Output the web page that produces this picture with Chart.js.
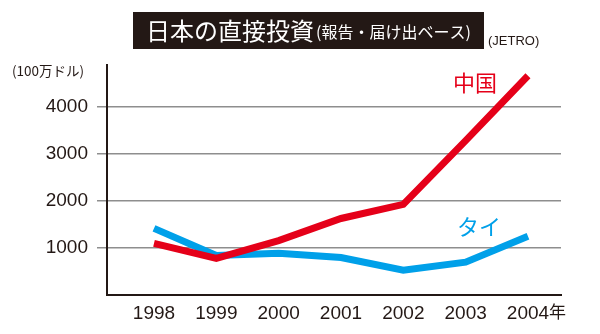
<!DOCTYPE html>
<html>
<head>
<meta charset="utf-8">
<script src="https://cdn.jsdelivr.net/npm/chart.js@4"></script>
<style>
  html, body { margin: 0; padding: 0; background: #fff; }
  #wrap { width: 600px; height: 334px; position: relative; }
</style>
</head>
<body>
<div id="wrap"><canvas id="myChart" width="600" height="334"></canvas></div>
<script>
// data (100万ドル)
const years = [1998, 1999, 2000, 2001, 2002, 2003, 2004];
const china = [1100, 780, 1160, 1630, 1930, 3290, 4670];
const thai = [1420, 840, 890, 800, 530, 700, 1250];
const yTicks = [1000, 2000, 3000, 4000];

const axisColor = "#231815";
const gridColor = "#8e8e8e";
const red = "#e50019";
const blue = "#00a0e9";
const numFont = "'Liberation Sans', Arial, sans-serif";
const jpFont = "'Noto Sans CJK JP', sans-serif";

// title box, unit label, series names, 年 suffix
const decorations = {
  id: "decorations",
  afterDraw(chart) {
    const ctx = chart.ctx;
    ctx.save();
    // title
    ctx.fillStyle = "#231815";
    ctx.fillRect(133, 12, 351, 37);
    ctx.fillStyle = "#fff";
    ctx.textBaseline = "middle";
    ctx.textAlign = "left";
    ctx.font = "400 24px " + jpFont;
    ctx.fillText("日本の直接投資", 146, 31);
    ctx.font = "400 16px " + jpFont;
    ctx.fillText("(報告・届け出ベース)", 316, 32);
    ctx.fillStyle = "#231815";
    ctx.font = "13px " + numFont;
    ctx.fillText("(JETRO)", 488, 41);
    // unit
    ctx.font = "13.5px " + jpFont;
    ctx.fillText("(100万ドル)", 12, 71);
    // series names
    ctx.font = "22px " + jpFont;
    ctx.fillStyle = red;
    ctx.fillText("中国", 453, 83);
    ctx.fillStyle = blue;
    ctx.fillText("タイ", 457, 227);
    // 年 after last year label
    const xs = chart.scales.x;
    const lastX = xs.getPixelForValue(years[years.length - 1]);
    ctx.font = "19px " + numFont;
    const w = ctx.measureText(String(years[years.length - 1])).width;
    ctx.fillStyle = axisColor;
    ctx.font = "17px " + jpFont;
    ctx.fillText("年", lastX + w / 2, 312);
    ctx.restore();
  }
};

new Chart(document.getElementById("myChart"), {
  type: "line",
  data: {
    datasets: [
      {
        label: "中国",
        data: years.map((y, i) => ({ x: y, y: china[i] })),
        borderColor: red,
        borderWidth: 7,
        pointRadius: 0,
        tension: 0,
        borderCapStyle: "butt",
      },
      {
        label: "タイ",
        data: years.map((y, i) => ({ x: y, y: thai[i] })),
        borderColor: blue,
        borderWidth: 7,
        pointRadius: 0,
        tension: 0,
        borderCapStyle: "butt",
      },
    ],
  },
  options: {
    responsive: false,
    animation: false,
    layout: { padding: { top: 65, right: 39, left: 0, bottom: 0 } },
    scales: {
      x: {
        type: "linear",
        min: 1997.246,
        max: 2004.53,
        afterBuildTicks: (s) => { s.ticks = years.map((v) => ({ value: v })); },
        afterFit: (s) => { s.height = 39; },
        grid: { display: false, drawTicks: false },
        border: { color: axisColor, width: 2 },
        ticks: {
          color: axisColor,
          padding: 7,
          maxRotation: 0,
          autoSkip: false,
          font: { family: numFont, size: 19 },
          callback: (v) => String(v),
        },
      },
      y: {
        min: 0,
        max: 4900,
        afterBuildTicks: (s) => { s.ticks = yTicks.map((v) => ({ value: v })); },
        afterFit: (s) => { s.width = 107; },
        grid: { color: gridColor, lineWidth: 1.5, tickLength: 10, tickColor: gridColor },
        border: { color: axisColor, width: 2 },
        ticks: {
          color: axisColor,
          padding: 9,
          font: { family: numFont, size: 19 },
          callback: (v) => String(v),
        },
      },
    },
    plugins: {
      legend: { display: false },
      tooltip: { enabled: false },
    },
  },
  plugins: [decorations],
});
</script>
</body>
</html>
